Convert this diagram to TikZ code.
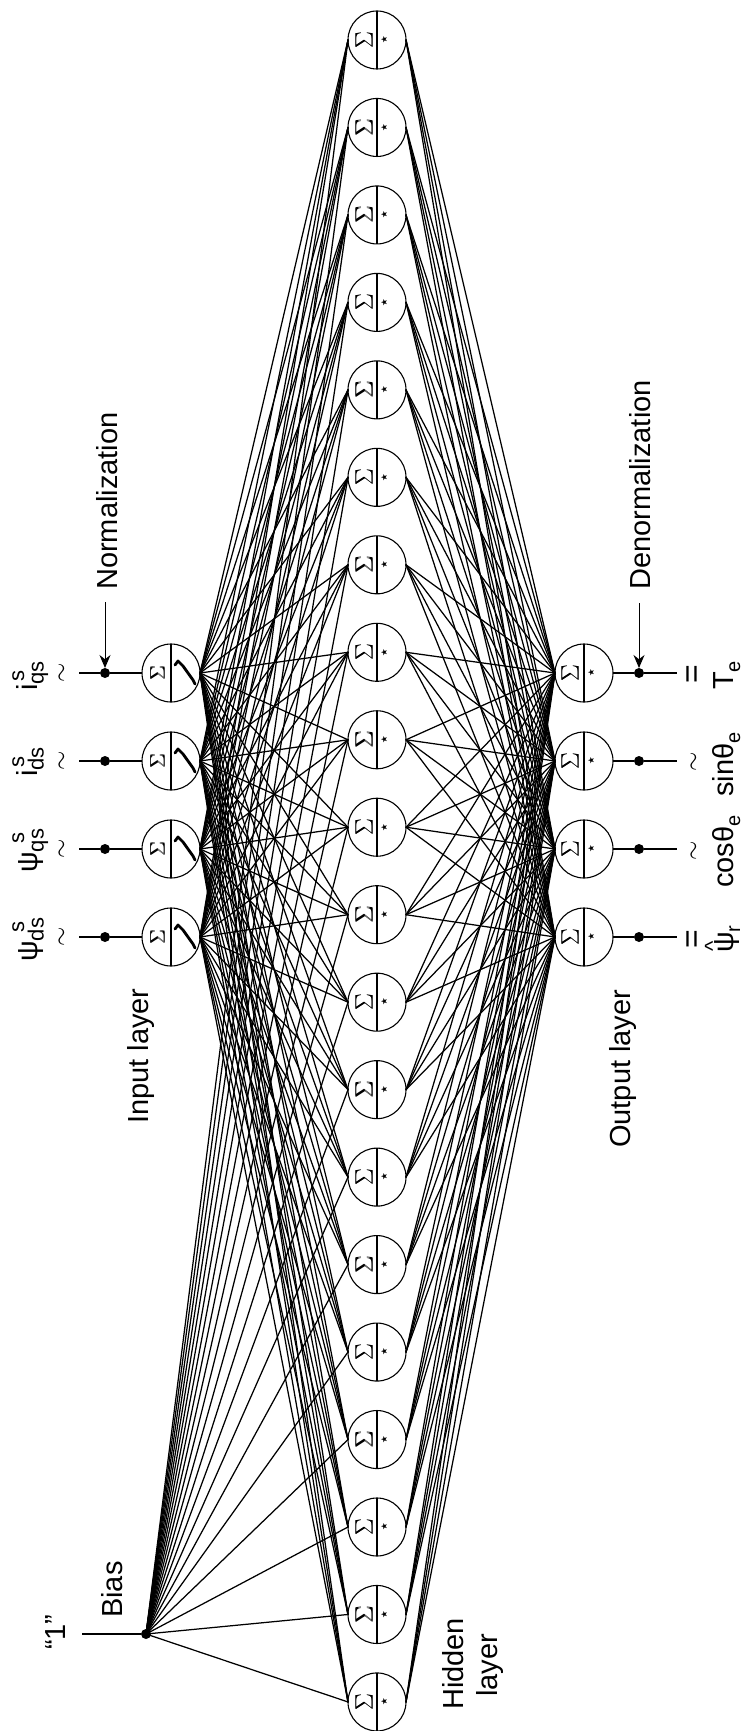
\documentclass[tikz,border=0pt]{standalone}
\usepackage{fontspec}
\setmainfont{Liberation Sans}
\newfontfamily\djvfont{DejaVu Sans}
\usetikzlibrary{arrows.meta}
\newcommand{\fs}[1]{\fontsize{#1}{#1}\selectfont}
\newcommand{\SigmaMark}{\rlap{$\Sigma$}\kern0.5pt$\Sigma$}
% base, superscript, subscript, kern of the superscript
\newcommand{\SupSub}[4]{#1\rlap{\kern#4\raisebox{13pt}{\fs{22}#2}}\raisebox{-6.5pt}{\fs{22}#3}}
\newcommand{\Low}[1]{\raisebox{-7pt}{\fs{20}#1}}
\tikzset{
  neuron/.style={circle,draw,line width=1.1pt,fill=white,minimum size=58pt,inner sep=0pt,outer sep=0pt},
  divider/.style={line width=1.1pt},
  sigmasym/.style={rotate=90,inner sep=0pt},
  starsym/.style={rotate=90,inner sep=0pt,font=\djvfont\fs{8.5}},
  link/.style={line width=1.25pt,line cap=round},
  wire/.style={line width=1.2pt},
  dotnode/.style={circle,fill=black,minimum size=10pt,inner sep=0pt,outer sep=0pt},
  pointer/.style={line width=1pt,-{Stealth[length=13pt,width=11pt]}},
  lab/.style={rotate=90,inner sep=0pt,anchor=base west,font=\fs{29}},
  relsym/.style={rotate=90,inner sep=0pt},
  sshape/.style={line width=2.8pt,line join=round,line cap=round}
}
\begin{document}
\begin{tikzpicture}[x=1pt,y=-1pt]
\useasboundingbox (0,0) rectangle (742,1731);
% hidden layer
\foreach \j [evaluate=\j as \yy using {40+87.47*(\j-1)}] in {1,...,20} {
  \node[neuron] (h\j) at (377,\yy) {};
  \draw[divider] (h\j.north) -- (h\j.south);
  \node[sigmasym,font=\fs{25}] (hs\j) at (364,\yy) {\SigmaMark};
  \node[starsym] (ht\j) at (384,\yy) {★};
}
% input and output layers
\foreach \i/\yy in {1/673,2/761,3/849,4/937} {
  \node[neuron] (in\i) at (171,\yy) {};
  \draw[divider] (in\i.north) -- (in\i.south);
  \node[sigmasym,font=\fs{21}] (is\i) at (157.5,\yy) {\SigmaMark};
  \draw[sshape] (175,\yy-8) -- (178,\yy-12) -- (183,\yy-7) -- (193,\yy+7) -- (195,\yy+11);
  \node[neuron] (out\i) at (584,\yy) {};
  \draw[divider] (out\i.north) -- (out\i.south);
  \node[sigmasym,font=\fs{23}] (os\i) at (570,\yy) {\SigmaMark};
  \node[starsym] (ot\i) at (591,\yy) {★};
  \node[dotnode] (dn\i) at (105,\yy) {};
  \node[dotnode] (de\i) at (639,\yy) {};
  \coordinate (inA\i) at (79,\yy);
  \coordinate (outB\i) at (677,\yy);
  \draw[wire] (inA\i) -- (dn\i) -- (in\i.west);
  \draw[wire] (out\i.east) -- (de\i) -- (outB\i);
  \node[relsym,font=\fs{28}] (tl\i) at (63,\yy) {$\sim$};
}
% connections
\foreach \j in {1,...,20} {
  \foreach \i in {1,...,4} {
    \draw[link] (in\i.east) -- (h\j.west);
    \draw[link] (h\j.east) -- (out\i.west);
  }
}
% bias
\node[dotnode] (bias) at (146,1634) {};
\coordinate (biasIn) at (82,1634);
\draw[wire] (biasIn) -- (bias);
\foreach \j in {1,...,20} { \draw[link] (bias.center) -- (h\j.west); }
% pointers
\coordinate (normTop) at (105,602);
\coordinate (denTop) at (639,603);
\draw[pointer] (normTop) -- (dn1);
\draw[pointer] (denTop) -- (de1);
% output relation symbols
\node[relsym,font=\fs{32}] (rel1) at (695,674) {=};
\node[relsym,font=\fs{28}] (rel2) at (695,762) {$\sim$};
\node[relsym,font=\fs{28}] (rel3) at (695,851) {$\sim$};
\node[relsym,font=\fs{32}] (rel4) at (695,939) {=};
% labels
\node[lab] (tNorm) at (117,590) {Normalization};
\node[lab] (tDen) at (650,590) {Denormalization};
\node[lab] (tInp) at (148,1124) {Input layer};
\node[lab] (tOut) at (630,1148) {Output layer};
\node[lab] (tHid) at (463,1710) {Hidden};
\node[lab] (tLay) at (497,1697) {layer};
\node[lab] (tBias) at (122,1618) {Bias};
\node[lab] (tOne) at (65,1650) {“1”};
\node[lab] (v1) at (37,691) {\SupSub{i}{s}{qs}{3pt}};
\node[lab] (v2) at (37,777) {\SupSub{i}{s}{ds}{3pt}};
\node[lab] (v3) at (37,873) {\SupSub{ψ}{s}{qs}{9pt}};
\node[lab] (v4) at (37,962) {\SupSub{ψ}{s}{ds}{9pt}};
\node[lab] (w1) at (733,690) {T\Low{e}};
\node[lab] (w2) at (733,797) {sinθ\Low{e}};
\node[lab] (w3) at (733,888) {cosθ\Low{e}};
\node[lab] (w4) at (733,953) {\rlap{\kern1pt\raisebox{13pt}{\fs{22}\char"005E}}ψ\Low{r}};
\end{tikzpicture}
\end{document}
